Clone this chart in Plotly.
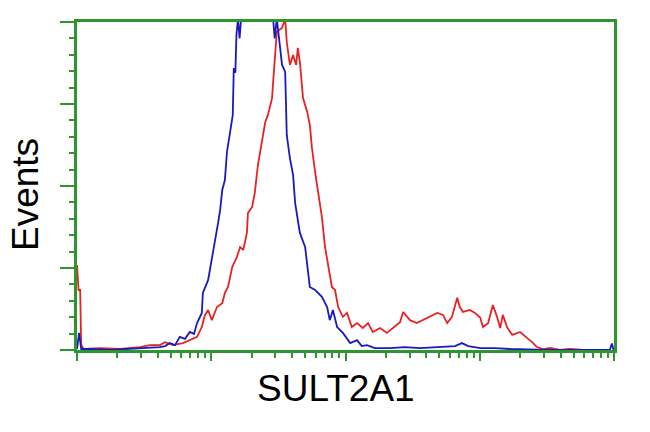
import plotly.graph_objects as go

# Flow cytometry histogram: channel (0-1023, 4-decade log scale) vs events
blue_channel = [0, 4, 8, 25, 63, 101, 139, 158, 168, 177, 187, 196, 206, 215, 223, 229, 238, 240, 250, 257,
                263, 269, 273, 277, 282, 286, 292, 297, 299, 302, 304, 307, 310, 313, 325, 340, 355, 368, 374,
                377, 381, 385, 391, 397, 400, 406, 412, 416, 425, 435, 440, 444, 454, 467, 477, 482, 488, 496,
                507, 521, 534, 543, 553, 568, 597, 625, 654, 692, 721, 734, 746, 769, 797, 826, 864, 892, 960,
                1016, 1020, 1023]
blue_events = [0.3, 5.2, 0.3, 0.3, 0, 0.3, 0.6, 0.9, 1.2, 2.1, 1.5, 4.0, 3.4, 5.5, 4.9, 8.2, 11.3, 17.4, 21.3, 27.4,
               32.6, 38.7, 42.7, 48.8, 51.8, 60.4, 66.5, 71.6, 86.0, 84.5, 96.0, 101, 95, 101, 108, 114, 112, 106, 101,
               95, 101, 96, 86.9, 84.8, 65.5, 58.5, 53.4, 44.8, 35.7, 31.4, 25.3, 19.2, 18.3, 16.2, 13.1, 9.1, 12.2, 7.0,
               5.2, 2.1, 3.0, 1.2, 1.5, 0.6, 0.6, 0.9, 0.6, 0.9, 1.2, 2.1, 1.2, 0.6, 0.6, 0.3, 0, 0, 0,
               0, 2.0, 0]

red_channel = [0, 3, 6, 8, 13, 44, 82, 120, 139, 158, 168, 183, 202, 215, 229, 238, 244, 250, 257, 267, 277, 282,
               288, 296, 305, 311, 317, 324, 326, 334, 339, 345, 353, 359, 364, 372, 374, 378, 381, 391, 397, 400,
               406, 412, 418, 421, 425, 431, 439, 444, 448, 454, 458, 463, 467, 473, 479, 486, 492, 498, 507, 515,
               524, 534, 545, 555, 564, 578, 591, 603, 616, 622, 635, 648, 660, 673, 687, 698, 706, 715, 725, 730,
               736, 749, 759, 769, 774, 784, 793, 801, 807, 812, 820, 830, 839, 845, 858, 868, 877, 889, 902, 921,
               940, 965, 1000]
red_events = [25.9, 18.3, 18.3, 1.5, 0.3, 0.6, 0.3, 0.9, 1.5, 1.5, 2.4, 1.5, 2.1, 3.0, 4.0, 7.0, 10.7, 12.2, 9.1, 13.1,
              14.3, 17.4, 19.2, 25.3, 28.4, 31.4, 30.5, 35.7, 41.8, 43.6, 47.9, 56.4, 63.4, 69.5, 71.6, 76.8, 81.7,
              90.9, 97.0, 98.2, 101, 93.9, 86.9, 89.9, 86.9, 92.1, 87.8, 76.8, 72.6, 68.6, 61.6, 54.3, 50.3, 45.7,
              40.5, 31.4, 25.3, 19.2, 18.3, 13.1, 10.1, 11.3, 7.0, 8.2, 6.7, 8.2, 5.5, 6.7, 5.2, 6.7, 8.5, 11.6, 9.1,
              8.2, 9.1, 10.1, 11.3, 10.7, 8.2, 10.1, 15.9, 13.1, 11.6, 12.2, 11.3, 9.8, 7.0, 8.2, 13.7, 10.1, 6.7,
              10.7, 7.0, 4.6, 5.2, 5.5, 3.7, 2.4, 0.9, 0.3, 0.6, 0, 0.3, 0, 0]

x_title = "SULT2A1"
y_title = "Events"

GREEN = "rgb(46,150,46)"
RED = "rgb(230,35,35)"
BLUE = "rgb(25,25,195)"


def to_intensity(channels):
    return [10 ** (c / 256.0) for c in channels]


fig = go.Figure()
fig.add_trace(go.Scatter(x=to_intensity(red_channel), y=red_events, mode="lines",
                         line=dict(color=RED, width=1.8), showlegend=False))
fig.add_trace(go.Scatter(x=to_intensity(blue_channel), y=blue_events, mode="lines",
                         line=dict(color=BLUE, width=1.8), showlegend=False))

fig.update_layout(
    width=650, height=432,
    margin=dict(l=69, r=44, t=14, b=90),
    paper_bgcolor="white", plot_bgcolor="white",
    font=dict(family="Liberation Sans, Arial, sans-serif", color="black"),
    xaxis=dict(type="log", range=[0, 4], dtick=1, showgrid=False, zeroline=False,
               showline=True, linecolor=GREEN, linewidth=2.5, mirror=True,
               ticks="outside", ticklen=8, tickwidth=2, tickcolor=GREEN, showticklabels=False,
               minor=dict(ticks="outside", ticklen=5, tickwidth=2, tickcolor=GREEN, dtick="D1", showgrid=False)),
    yaxis=dict(range=[0, 100], dtick=25, showgrid=False, zeroline=False,
               showline=True, linecolor=GREEN, linewidth=2.5, mirror=True,
               ticks="outside", ticklen=14, tickwidth=2, tickcolor=GREEN, showticklabels=False,
               minor=dict(ticks="outside", ticklen=5, tickwidth=2, tickcolor=GREEN, dtick=5, showgrid=False)),
    annotations=[
        dict(text=x_title, xref="paper", yref="paper", x=(336 - 77) / 537, y=-(388 - 350) / 328,
             xanchor="center", yanchor="middle", showarrow=False, font=dict(size=37, color="black")),
        dict(text=y_title, xref="paper", yref="paper", x=-(77 - 25) / 537, y=(350 - 195) / 328,
             xanchor="center", yanchor="middle", textangle=-90, showarrow=False,
             font=dict(size=37, color="black")),
    ],
)

fig.write_html("out.html")
